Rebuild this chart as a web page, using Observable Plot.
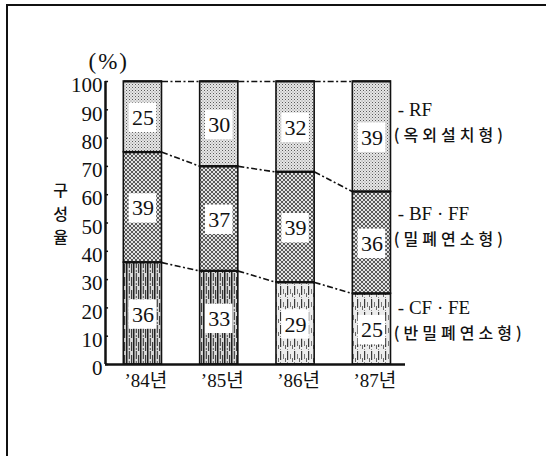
<!DOCTYPE html>
<html>
<head>
<meta charset="utf-8">
<script src="https://cdn.jsdelivr.net/npm/d3@7"></script>
<script src="https://cdn.jsdelivr.net/npm/@observablehq/plot@0.6"></script>
<style>
  html, body { margin: 0; padding: 0; background: #fff; }
  #wrap { position: relative; width: 546px; height: 456px; overflow: hidden; }
  #border { position: absolute; left: 6px; top: 4px; right: -10px; bottom: -10px;
            border-left: 2px solid #111; border-top: 2px solid #111; }
  #wrap svg { position: absolute; left: 0; top: 0; font-family: "Liberation Serif", "Noto Sans CJK KR", serif; }
</style>
</head>
<body>
<div id="wrap"><div id="border"></div></div>
<script>
// Share of boiler types by year (%), stacked bottom to top: CF·FE, BF·FF, RF
const years = ["’84년", "’85년", "’86년", "’87년"];
const cfFe = [36, 33, 29, 25];
const bfFf = [39, 37, 39, 36];
const rf   = [25, 30, 32, 39];
const yTicks = [0, 10, 20, 30, 40, 50, 60, 70, 80, 90, 100];
const seriesNames = ["- CF · FE", "- BF · FF", "- RF"];
const seriesKinds = ["(반밀폐연소형)", "(밀폐연소형)", "(옥외설치형)"];
const yLabelChars = ["구", "성", "율"];
const unitLabel = "(%)";

const keys = ["cf", "bf", "rf"];
const seriesValues = [cfFe, bfFf, rf];

// stacked segments
const rows = [];
years.forEach((year, i) => {
  let base = 0;
  keys.forEach((key, k) => {
    const v = seriesValues[k][i];
    rows.push({i, year, key, value: v, y1: base, y2: base + v, mid: base + v / 2});
    base += v;
  });
});

// segment tops for each year, used by the dashed connectors
const tops = years.map((_, i) => {
  let acc = 0;
  return seriesValues.map(s => (acc += s[i]));
});
const hw = 0.25; // half bar width in x units
const connectors = [];
for (let i = 0; i < years.length - 1; i++) {
  tops[i].forEach((t, k) => {
    connectors.push({x1: i + hw, y1: t, x2: i + 1 - hw, y2: tops[i + 1][k]});
  });
}

// legend entries sit beside the last bar
const legendRows = keys.map((key, k) => ({key, name: seriesNames[k], kind: seriesKinds[k]}));
const legendAnchor = {cf: 15.4, bf: 48.6, rf: 85.3};

const xMin = -0.49, xMax = 3.44;
const serif = "Liberation Serif, Noto Sans CJK KR, serif";
const gothic = "Noto Sans CJK KR, sans-serif";

const chart = Plot.plot({
  width: 546,
  height: 456,
  marginTop: 81,
  marginBottom: 92,
  marginLeft: 105,
  marginRight: 141,
  style: {fontFamily: serif, color: "#111", background: "transparent", overflow: "visible"},
  x: {domain: [xMin, xMax]},
  y: {domain: [0, 100]},
  marks: [
    // segments
    Plot.rect(rows.filter(d => d.key === "rf"), {
      x1: d => d.i - hw, x2: d => d.i + hw, y1: "y1", y2: "y2",
      fill: "url(#pRF)", stroke: "#111", strokeWidth: 1.6
    }),
    Plot.rect(rows.filter(d => d.key === "bf"), {
      x1: d => d.i - hw, x2: d => d.i + hw, y1: "y1", y2: "y2",
      fill: "url(#pBF)", stroke: "#111", strokeWidth: 1.6
    }),
    Plot.rect(rows.filter(d => d.key === "cf" && d.i < 2), {
      x1: d => d.i - hw, x2: d => d.i + hw, y1: "y1", y2: "y2",
      fill: "url(#pCFd)", stroke: "#111", strokeWidth: 1.6
    }),
    Plot.rect(rows.filter(d => d.key === "cf" && d.i >= 2), {
      x1: d => d.i - hw, x2: d => d.i + hw, y1: "y1", y2: "y2",
      fill: "url(#pCFl)", stroke: "#111", strokeWidth: 1.6
    }),
    // segment top edges
    Plot.link(rows, {
      x1: d => d.i - hw, x2: d => d.i + hw, y1: "y2", y2: "y2",
      stroke: "#111", strokeWidth: 2
    }),
    // dashed connectors between bars
    Plot.link(connectors, {
      x1: "x1", y1: "y1", x2: "x2", y2: "y2",
      stroke: "#111", strokeWidth: 1.6, strokeDasharray: "6,2.5,2,2.5"
    }),
    // value boxes and numbers
    Plot.rect(rows, {
      x1: d => d.i - 0.18, x2: d => d.i + 0.18,
      y1: d => d.mid - 5.2, y2: d => d.mid + 5.2,
      fill: "white", dy: 1
    }),
    Plot.text(rows, {
      x: "i", y: "mid", text: d => String(d.value),
      fontSize: 22, fill: "#111", dy: 1, fontFamily: serif
    }),
    // axes
    Plot.ruleY([0], {stroke: "#111", strokeWidth: 2.5}),
    Plot.ruleX([xMin], {stroke: "#111", strokeWidth: 2.5}),
    Plot.ruleY(yTicks, {x1: xMin, x2: xMin + 0.04, stroke: "#111", strokeWidth: 1.5}),
    Plot.axisY({
      ticks: yTicks, tickSize: 0, tickPadding: 3, fontSize: 21,
      label: null, dy: 4, fontFamily: serif
    }),
    Plot.axisX({
      ticks: [0, 1, 2, 3], tickFormat: i => years[i], tickSize: 0,
      tickPadding: 9, fontSize: 19, label: null, dx: 3, fontFamily: serif
    }),
    // vertical axis title, one syllable per line
    Plot.text(yLabelChars, {
      x: xMin, y: (d, i) => 53 + (1 - i) * 8.4, text: d => d,
      dx: -45, fontSize: 16, fontFamily: gothic, fontWeight: 500, fill: "#111"
    }),
    Plot.text([unitLabel], {
      frameAnchor: "top-left", dx: -17, dy: -29, fontSize: 23, fill: "#111", fontFamily: serif
    }),
    // legend text
    Plot.text(legendRows, {
      x: 3.34, y: d => legendAnchor[d.key], text: "name",
      textAnchor: "start", dy: -13, fontSize: 19, fill: "#111", fontFamily: serif
    }),
    Plot.text(legendRows, {
      x: 3.34, y: d => legendAnchor[d.key], text: "kind",
      textAnchor: "start", dx: -4, dy: 13, fontSize: 16, fill: "#111",
      fontFamily: gothic, fontWeight: 500
    })
  ]
});

// wider tracking for the Korean type names and the unit label
chart.querySelectorAll("text").forEach(t => {
  if (seriesKinds.includes(t.textContent)) t.setAttribute("letter-spacing", "4");
  if (t.textContent === unitLabel) t.setAttribute("letter-spacing", "2");
});

// fill textures for the segments
chart.insertAdjacentHTML("afterbegin", `
<defs>
  <pattern id="pRF" width="3" height="3" patternUnits="userSpaceOnUse">
    <rect width="3" height="3" fill="#e6e6e6"/>
    <rect x="0" y="0" width="1" height="1" fill="#5a5a5a"/>
    <rect x="1.5" y="1.5" width="1" height="1" fill="#8a8a8a"/>
  </pattern>
  <pattern id="pBF" width="4" height="4" patternUnits="userSpaceOnUse">
    <rect width="4" height="4" fill="#e2e2e2"/>
    <path d="M0,0L4,4M4,0L0,4" stroke="#4a4a4a" stroke-width="0.9"/>
  </pattern>
  <pattern id="pCFd" width="7" height="13" patternUnits="userSpaceOnUse">
    <rect width="7" height="13" fill="#d6d6d6"/>
    <rect x="0" y="0" width="1.5" height="13" fill="#1e1e1e"/>
    <rect x="2.8" y="0" width="1" height="8" fill="#2e2e2e"/>
    <rect x="5" y="4" width="1.2" height="9" fill="#3a3a3a"/>
    <rect x="2.8" y="10" width="1" height="2" fill="#555"/>
  </pattern>
  <pattern id="pCFl" width="7" height="13" patternUnits="userSpaceOnUse">
    <rect width="7" height="13" fill="#ececec"/>
    <rect x="0" y="0" width="1.2" height="9" fill="#3a3a3a"/>
    <rect x="3" y="3" width="1" height="5" fill="#777"/>
    <rect x="5" y="7" width="1" height="4" fill="#666"/>
    <rect x="0" y="11" width="1" height="1" fill="#888"/>
  </pattern>
</defs>`);

document.getElementById("wrap").appendChild(chart);
</script>
</body>
</html>
